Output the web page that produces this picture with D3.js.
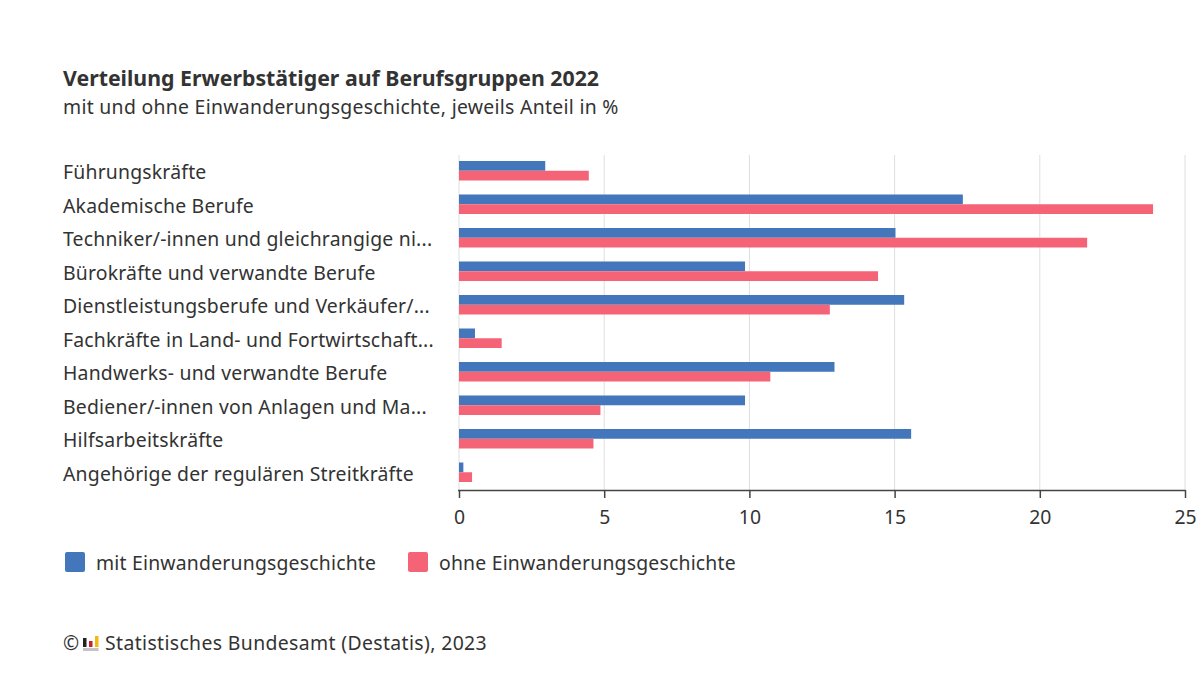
<!DOCTYPE html>
<html><head><meta charset="utf-8">
<script src="https://cdn.jsdelivr.net/npm/d3@7/dist/d3.min.js"></script>
<style>
html,body{margin:0;padding:0;background:#fff}
svg{display:block}
text{font-family:"Noto Sans",sans-serif;fill:#333}
.body{font-size:19.4px;letter-spacing:.2px}
</style></head><body>
<div id="chart"></div>
<script>
const categories = ["Führungskräfte","Akademische Berufe","Techniker/-innen und gleichrangige ni...","Bürokräfte und verwandte Berufe","Dienstleistungsberufe und Verkäufer/...","Fachkräfte in Land- und Fortwirtschaft...","Handwerks- und verwandte Berufe","Bediener/-innen von Anlagen und Ma...","Hilfsarbeitskräfte","Angehörige der regulären Streitkräfte"];
const mitValues = [2.97,17.35,15.03,9.85,15.33,0.55,12.93,9.85,15.57,0.15];
const ohneValues = [4.47,23.9,21.63,14.43,12.77,1.47,10.72,4.87,4.63,0.45];
const seriesNames = ["mit Einwanderungsgeschichte","ohne Einwanderungsgeschichte"];
const seriesColors = ["#4376bb","#f56476"];
const xTicks = [0,5,10,15,20,25];

const svg = d3.select("#chart").append("svg").attr("width",1200).attr("height",675);
const x = d3.scaleLinear().domain([0,25]).range([459,1185]);
const y = d3.scaleBand().domain(categories).range([154,489]);
const inner = d3.scaleBand().domain([0,1]).range([0,19.5]);
const offset = (y.bandwidth()-19.5)/2;

svg.append("text").attr("x",63).attr("y",86).attr("font-size",21.3).attr("font-weight",700).text("Verteilung Erwerbstätiger auf Berufsgruppen 2022");
svg.append("text").attr("class","body").attr("x",63).attr("y",114).style("letter-spacing",".29px").text("mit und ohne Einwanderungsgeschichte, jeweils Anteil in %");

// vertical grid
svg.append("g").selectAll("line").data(xTicks).join("line")
  .attr("x1",d=>x(d)).attr("x2",d=>x(d)).attr("y1",155).attr("y2",490)
  .attr("stroke","#dedede").attr("stroke-width",1);

// category labels
svg.append("g").selectAll("text").data(categories).join("text")
  .attr("class","body")
  .attr("x",63).attr("y",d=>y(d)+y.bandwidth()/2+8.5)
  .text(d=>d);

// paired bars per category
[mitValues,ohneValues].forEach((vals,i)=>{
  svg.append("g").selectAll("rect").data(vals).join("rect")
    .attr("x",x(0))
    .attr("y",(d,j)=>y(categories[j])+offset+inner(i))
    .attr("width",d=>x(d)-x(0))
    .attr("height",inner.bandwidth())
    .attr("fill",seriesColors[i]);
});

// value axis
const axis = svg.append("g").attr("transform","translate(0,490)")
  .call(d3.axisBottom(x).tickValues(xTicks).tickSize(8).tickPadding(12).tickFormat(d3.format("d")));
axis.selectAll("path").attr("d","M458,0.5H1185.5").attr("stroke","#444").attr("stroke-width",1.5);
axis.selectAll("line").attr("stroke","#444").attr("stroke-width",1.5);
axis.selectAll("text").attr("font-size",19.4).attr("font-family",'"Noto Sans",sans-serif').attr("fill","#333");

// legend
const legendX = [65,408];
seriesNames.forEach((n,i)=>{
  svg.append("rect").attr("x",legendX[i]).attr("y",552).attr("width",20).attr("height",20).attr("rx",2).attr("fill",seriesColors[i]);
  svg.append("text").attr("class","body").attr("x",legendX[i]+31).attr("y",570).text(n);
});

// source line with small logo
svg.append("text").attr("class","body").attr("x",63).attr("y",650).text("©");
const logo = svg.append("g").attr("transform","translate(83,636)");
[["#222",0,2,9],["#c8202f",6,5,6],["#f2b90f",12,0,11]].forEach(([c,bx,by,bh])=>{
  logo.append("rect").attr("x",bx).attr("y",by).attr("width",3.5).attr("height",bh).attr("fill",c);
});
logo.append("rect").attr("x",0).attr("y",12).attr("width",15.5).attr("height",3).attr("fill","#c4c4c4");
svg.append("text").attr("class","body").attr("x",105).attr("y",650).style("letter-spacing",".37px").text("Statistisches Bundesamt (Destatis), 2023");
</script>
</body></html>
